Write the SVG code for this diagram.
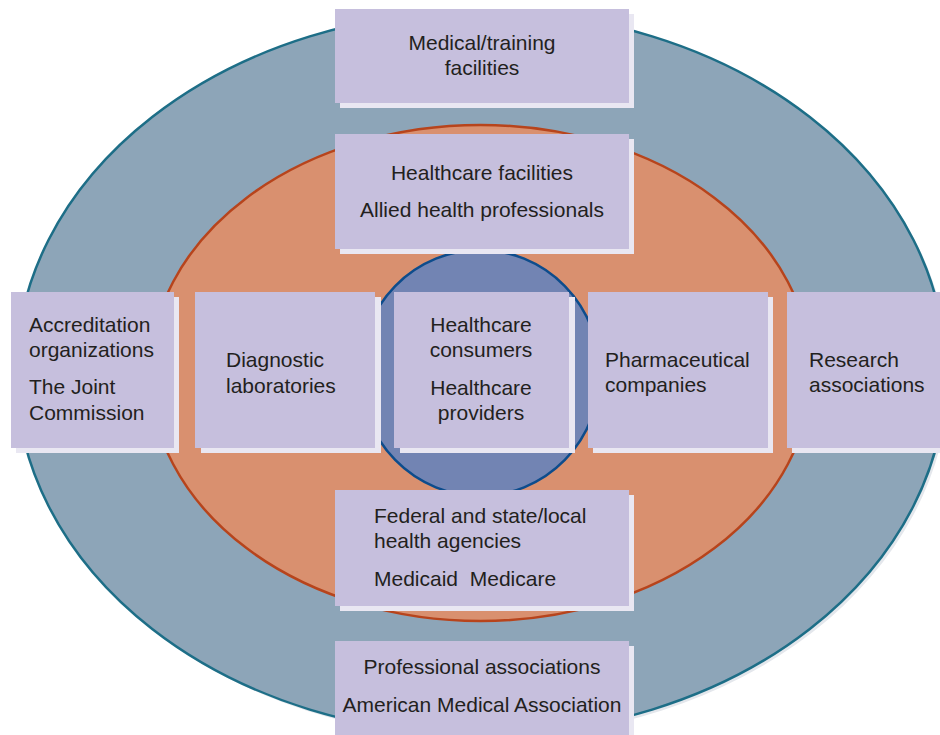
<svg xmlns="http://www.w3.org/2000/svg" width="940" height="735" viewBox="0 0 940 735">
  <style>
    .shadow { fill: #e9e7f2; }
    .box { fill: #c6bfdd; }
    text { font-family: "Liberation Sans", Arial, Helvetica, sans-serif; font-size: 21px; fill: #231f20; }
    .c { text-anchor: middle; }
  </style>

  <!-- concentric rings -->
  <g id="rings">
    <ellipse cx="484" cy="376" rx="465" ry="362" fill="#e4e7ec"/>
    <ellipse cx="481" cy="373" rx="465" ry="362" fill="#8da5b8" stroke="#1d6e87" stroke-width="2.5"/>
    <ellipse cx="480.5" cy="373" rx="330.5" ry="248" fill="#d9906f" stroke="#b7441c" stroke-width="2.5"/>
    <ellipse cx="480" cy="373" rx="120" ry="123" fill="#7284b3" stroke="#0d4c8c" stroke-width="2.5"/>
  </g>

  <g id="connectors"></g>

  <g id="medical-training">
    <rect class="shadow" x="340" y="14" width="294" height="94"/>
    <rect class="box" x="335" y="9" width="294" height="94"/>
    <text class="c" x="482" y="50">Medical/training</text>
    <text class="c" x="482" y="75">facilities</text>
  </g>

  <g id="healthcare-facilities">
    <rect class="shadow" x="340" y="139" width="294" height="115"/>
    <rect class="box" x="335" y="134" width="294" height="115"/>
    <text class="c" x="482" y="180">Healthcare facilities</text>
    <text class="c" x="482" y="217">Allied health professionals</text>
  </g>

  <g id="accreditation">
    <rect class="shadow" x="16" y="297" width="163" height="156"/>
    <rect class="box" x="11" y="292" width="163" height="156"/>
    <text x="29" y="332">Accreditation</text>
    <text x="29" y="357">organizations</text>
    <text x="29" y="394">The Joint</text>
    <text x="29" y="420">Commission</text>
  </g>

  <g id="diagnostic">
    <rect class="shadow" x="201" y="297" width="180" height="156"/>
    <rect class="box" x="195" y="292" width="180" height="156"/>
    <text x="226" y="367">Diagnostic</text>
    <text x="226" y="393">laboratories</text>
  </g>

  <g id="consumers-providers">
    <rect class="shadow" x="400" y="297" width="175" height="156"/>
    <rect class="box" x="394" y="292" width="175" height="156"/>
    <text class="c" x="481" y="332">Healthcare</text>
    <text class="c" x="481" y="357">consumers</text>
    <text class="c" x="481" y="395">Healthcare</text>
    <text class="c" x="481" y="420">providers</text>
  </g>

  <g id="pharmaceutical">
    <rect class="shadow" x="593" y="297" width="180" height="156"/>
    <rect class="box" x="588" y="292" width="180" height="156"/>
    <text x="605" y="367">Pharmaceutical</text>
    <text x="605" y="392">companies</text>
  </g>

  <g id="research">
    <rect class="shadow" x="792" y="297" width="160" height="156"/>
    <rect class="box" x="787" y="292" width="160" height="156"/>
    <text x="809" y="367">Research</text>
    <text x="809" y="392">associations</text>
  </g>

  <g id="agencies">
    <rect class="shadow" x="340" y="495" width="294" height="116"/>
    <rect class="box" x="335" y="490" width="294" height="116"/>
    <text x="374" y="523">Federal and state/local</text>
    <text x="374" y="548">health agencies</text>
    <text x="374" y="586" xml:space="preserve">Medicaid  Medicare</text>
  </g>

  <g id="professional-associations">
    <rect class="shadow" x="340" y="646" width="294" height="100"/>
    <rect class="box" x="335" y="641" width="294" height="100"/>
    <text class="c" x="482" y="674">Professional associations</text>
    <text class="c" x="482" y="712">American Medical Association</text>
  </g>
</svg>
